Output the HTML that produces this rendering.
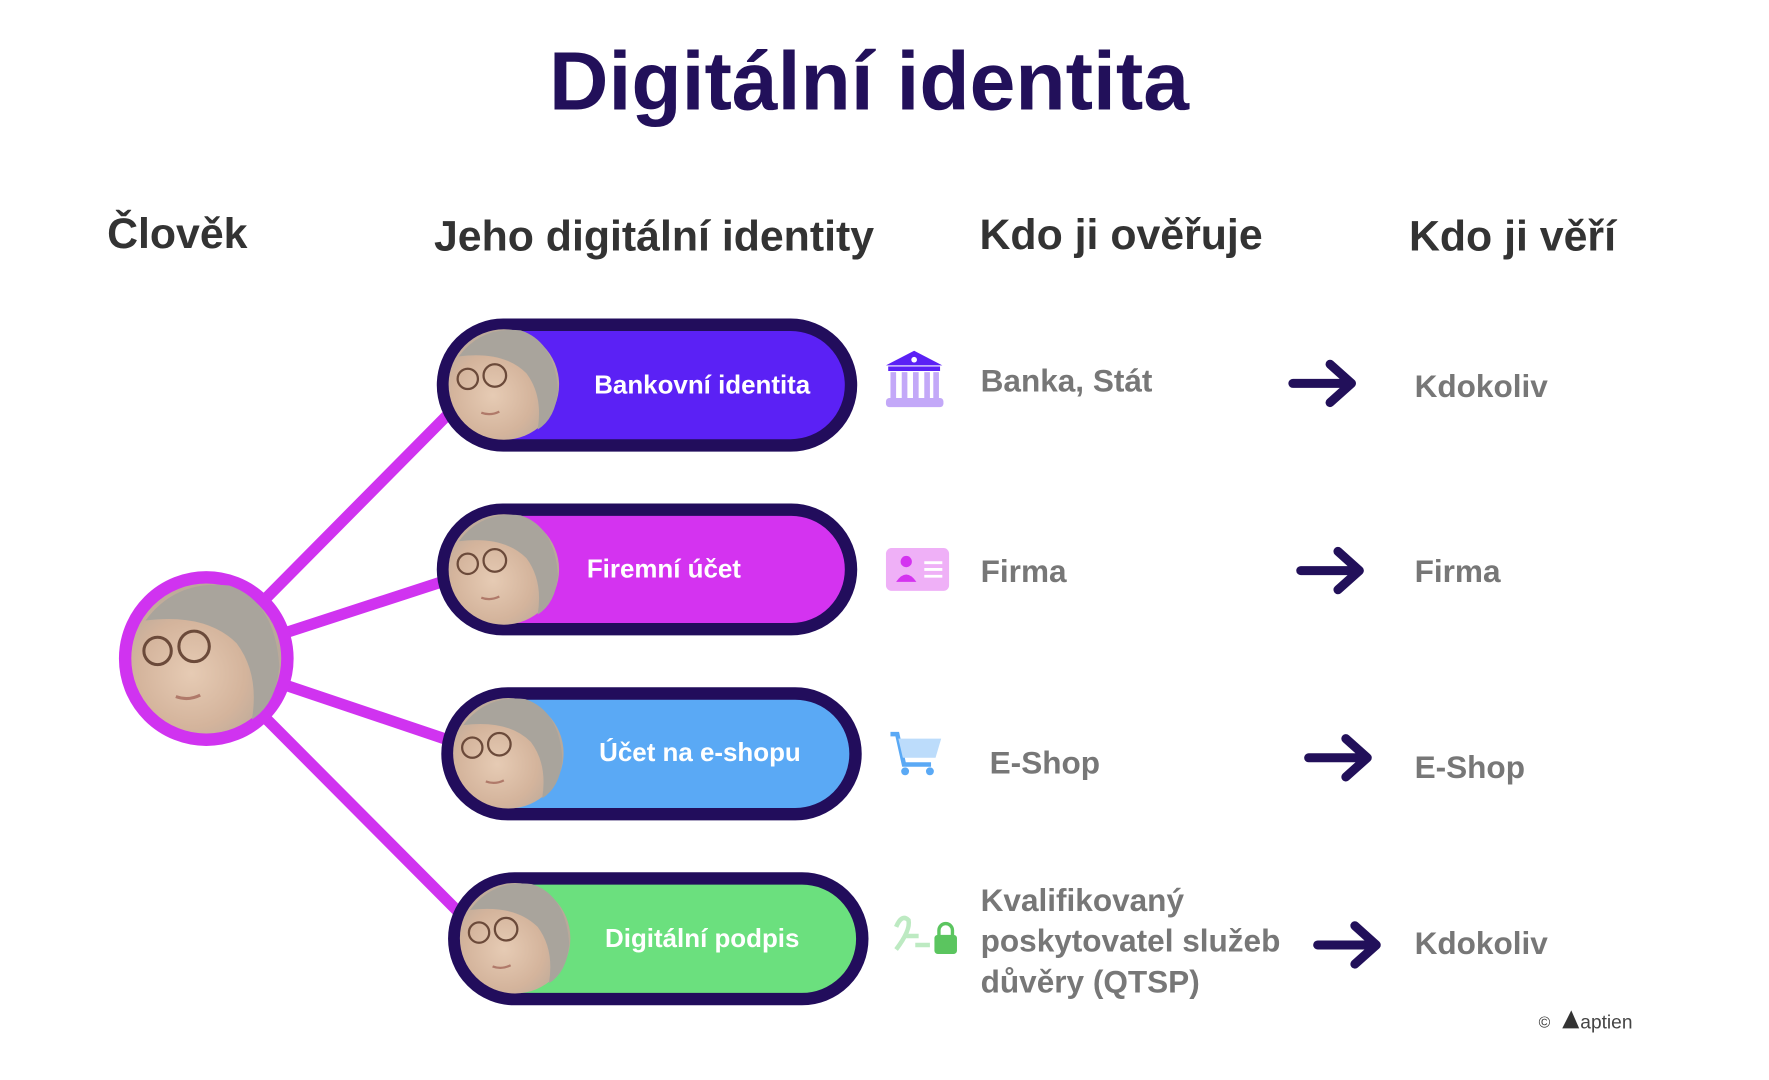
<!DOCTYPE html>
<html><head><meta charset="utf-8"><style>
html,body{margin:0;padding:0;background:#fff;width:1769px;height:1080px;overflow:hidden}
svg{display:block}
text{font-family:"Liberation Sans",sans-serif;font-weight:bold}
</style></head><body>
<svg width="1769" height="1080" viewBox="0 0 1560 952" preserveAspectRatio="none" xmlns="http://www.w3.org/2000/svg">
<defs>
<radialGradient id="face" cx="0.4" cy="0.6" r="0.6">
<stop offset="0" stop-color="#e6cbb4"/><stop offset="0.6" stop-color="#d4b49c"/><stop offset="1" stop-color="#b9a99a"/>
</radialGradient>
<g id="ph">
<circle r="49" fill="url(#face)"/>
<path d="M-40,-25 Q-20,-52 15,-48 Q45,-38 48,5 Q46,30 30,40 Q35,10 20,-10 Q0,-30 -40,-25Z" fill="#a9a49c"/>
<circle cx="-32" cy="-5" r="9" fill="none" stroke="#6b4a3a" stroke-width="2"/>
<circle cx="-8" cy="-8" r="10" fill="none" stroke="#6b4a3a" stroke-width="2"/>
<path d="M-20,25 Q-12,28 -4,24" stroke="#b07a6a" stroke-width="2" fill="none"/>
</g>
</defs>
<g transform="scale(0.994)">
<text x="771" y="97" text-anchor="middle" font-size="73" fill="#22105a">Digitální identita</text>
<g font-size="38" fill="#333">
<text x="95" y="220">Člověk</text>
<text x="385" y="222">Jeho digitální identity</text>
<text x="869" y="221">Kdo ji ověřuje</text>
<text x="1250" y="222">Kdo ji věří</text>
</g>
<g stroke="#d033f0" stroke-width="10" stroke-linecap="round">
<line x1="183" y1="584" x2="400" y2="365"/>
<line x1="183" y1="584" x2="395" y2="515"/>
<line x1="183" y1="584" x2="400" y2="657"/>
<line x1="183" y1="584" x2="408" y2="810"/>
</g>
<circle cx="183" cy="584" r="72" fill="url(#face)" stroke="#d033f0" stroke-width="11"/>
<g transform="translate(183,584) scale(1.35)"><use href="#ph"/></g>
<g font-size="23" fill="#fff" text-anchor="middle">
<rect x="393" y="288" width="362" height="107" rx="53.5" fill="#5b21f5" stroke="#220d5c" stroke-width="11"/>
<g transform="translate(447,341)"><use href="#ph"/></g>
<text x="623" y="349">Bankovní identita</text>
<rect x="393" y="452" width="362" height="106" rx="53" fill="#d433f0" stroke="#220d5c" stroke-width="11"/>
<g transform="translate(447,505)"><use href="#ph"/></g>
<text x="589" y="512">Firemní účet</text>
<rect x="397" y="615" width="362" height="107" rx="53.5" fill="#5aa9f5" stroke="#220d5c" stroke-width="11"/>
<g transform="translate(451,668)"><use href="#ph"/></g>
<text x="621" y="675">Účet na e-shopu</text>
<rect x="403" y="779" width="362" height="107" rx="53.5" fill="#6be07e" stroke="#220d5c" stroke-width="11"/>
<g transform="translate(457,832)"><use href="#ph"/></g>
<text x="623" y="840">Digitální podpis</text>
</g>
<path d="M786,324 L811,311 L836,324 Z" fill="#5b21f5"/><circle cx="811" cy="319" r="2.5" fill="#fff"/>
<rect x="788" y="325" width="46" height="4" fill="#5b21f5"/>
<g fill="#c3a8f8"><rect x="790" y="330" width="5" height="24"/><rect x="800" y="330" width="5" height="24"/><rect x="810" y="330" width="5" height="24"/><rect x="820" y="330" width="5" height="24"/><rect x="828" y="330" width="5" height="24"/><rect x="786" y="353" width="51" height="8" rx="3"/></g>
<rect x="786" y="486" width="56" height="38" rx="5" fill="#efb0f7"/>
<circle cx="804" cy="498" r="5" fill="#d433f0"/><path d="M795,516 Q804,503 813,516Z" fill="#d433f0"/>
<g stroke="#fff" stroke-width="2.5"><line x1="820" y1="499" x2="836" y2="499"/><line x1="820" y1="505" x2="836" y2="505"/><line x1="820" y1="511" x2="836" y2="511"/></g>
<path d="M790,651 L796,651 L802,678 L826,678" stroke="#5aa9f5" stroke-width="4" fill="none"/>
<path d="M797,655 L835,655 L830,672 L801,672Z" fill="#bcdcfb"/>
<circle cx="803" cy="684" r="3.5" fill="#5aa9f5"/><circle cx="825" cy="684" r="3.5" fill="#5aa9f5"/>
<path d="M795,822 Q800,810 806,816 Q808,825 795,842 M802,830 L815,830 M812,838 L825,838" stroke="#bdeac2" stroke-width="4" fill="none"/>
<rect x="829" y="829" width="20" height="17" rx="3" fill="#5bc55f"/><path d="M833,830 v-5 a6,6 0 0 1 12,0 v5" stroke="#5bc55f" stroke-width="3" fill="none"/>
<g font-size="28" fill="#777">
<text x="870" y="347">Banka, Stát</text>
<text x="870" y="516">Firma</text>
<text x="878" y="686">E-Shop</text>
<text x="870" y="808">Kvalifikovaný</text>
<text x="870" y="844">poskytovatel služeb</text>
<text x="870" y="880">důvěry (QTSP)</text>
<text x="1255" y="352">Kdokoliv</text>
<text x="1255" y="516">Firma</text>
<text x="1255" y="690">E-Shop</text>
<text x="1255" y="846">Kdokoliv</text>
</g>
<g stroke="#22105a" stroke-width="8" stroke-linecap="round" stroke-linejoin="round" fill="none">
<path d="M1147,340 H1198 M1180,323 L1199,340 L1180,357"/>
<path d="M1154,506 H1205 M1187,489 L1206,506 L1187,523"/>
<path d="M1161,672 H1212 M1194,655 L1213,672 L1194,689"/>
<path d="M1169,838 H1220 M1202,821 L1221,838 L1202,855"/>
</g>
<text x="1365" y="911" font-size="14" fill="#333" style="font-weight:normal">©</text>
<path d="M1386,912 L1394,896 L1401,912Z" fill="#333"/>
<text x="1402" y="912" font-size="17" fill="#444" style="font-weight:normal">aptien</text>
</g>
</svg>
</body></html>
